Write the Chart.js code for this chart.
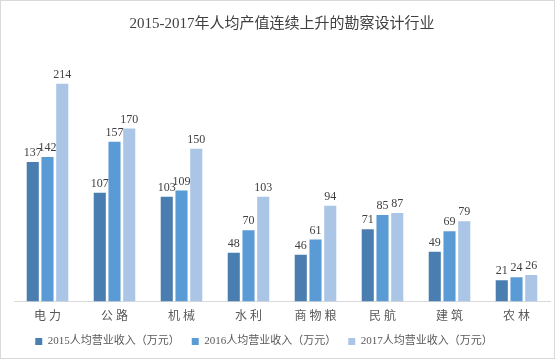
<!DOCTYPE html>
<html><head><meta charset="utf-8">
<script src="https://cdn.jsdelivr.net/npm/chart.js@4"></script>
<style>
html,body{margin:0;padding:0;background:#fff;}
#wrap{position:relative;width:553px;height:357px;border:1px solid #d9d9d9;}
</style></head>
<body><div id="wrap"><canvas id="c" width="553" height="357"></canvas></div>
<script>
const categories = ["电力","公路","机械","水利","商物粮","民航","建筑","农林"];
const series2015 = [137,107,103,48,46,71,49,21];
const series2016 = [142,157,109,70,61,85,69,24];
const series2017 = [214,170,150,103,94,87,79,26];
const seriesNames = ["2015人均营业收入（万元）","2016人均营业收入（万元）","2017人均营业收入（万元）"];
const titleText = "2015-2017年人均产值连续上升的勘察设计行业";

const FONT = "'Liberation Serif','Noto Sans CJK SC',serif";

const labelPlugin = {
  id:'vals',
  afterLayout(chart){
    if (chart.legend){ chart.legend.left -= 18; chart.legend.right -= 18; }
  },
  afterDatasetsDraw(chart){
    const ctx = chart.ctx;
    ctx.save();
    ctx.font = "12px " + FONT;
    ctx.fillStyle = "#404040";
    ctx.textAlign = "center";
    ctx.textBaseline = "bottom";
    chart.data.datasets.forEach((ds,i)=>{
      chart.getDatasetMeta(i).data.forEach((bar,j)=>{
        ctx.fillText(String(ds.data[j]), bar.x, bar.y - 3);
      });
    });
    ctx.restore();
  }
};

new Chart(document.getElementById('c'),{
  type:'bar',
  data:{
    labels: categories.map(s=>s.split('').join(' ')),
    datasets:[
      {label:seriesNames[0],data:series2015,backgroundColor:'#4a7eb1'},
      {label:seriesNames[1],data:series2016,backgroundColor:'#5b9bd5'},
      {label:seriesNames[2],data:series2017,backgroundColor:'#abc5e6'}
    ]
  },
  options:{
    responsive:false,
    animation:false,
    devicePixelRatio:1,
    layout:{padding:{left:13,right:4,top:0,bottom:1}},
    datasets:{bar:{categoryPercentage:0.66,barPercentage:0.82}},
    scales:{
      x:{
        grid:{display:false},
        border:{display:true,color:'#d9d9d9'},
        ticks:{color:'#595959',font:{family:FONT,size:12},padding:0}
      },
      y:{display:false,min:0,max:250}
    },
    plugins:{
      title:{display:true,text:titleText,color:'#404040',font:{family:FONT,size:15,weight:'normal'},padding:{top:14,bottom:14}},
      legend:{position:'bottom',labels:{boxWidth:7,boxHeight:7,color:'#595959',font:{family:FONT,size:11},padding:12}},
      tooltip:{enabled:false}
    }
  },
  plugins:[labelPlugin]
});
</script></body></html>
